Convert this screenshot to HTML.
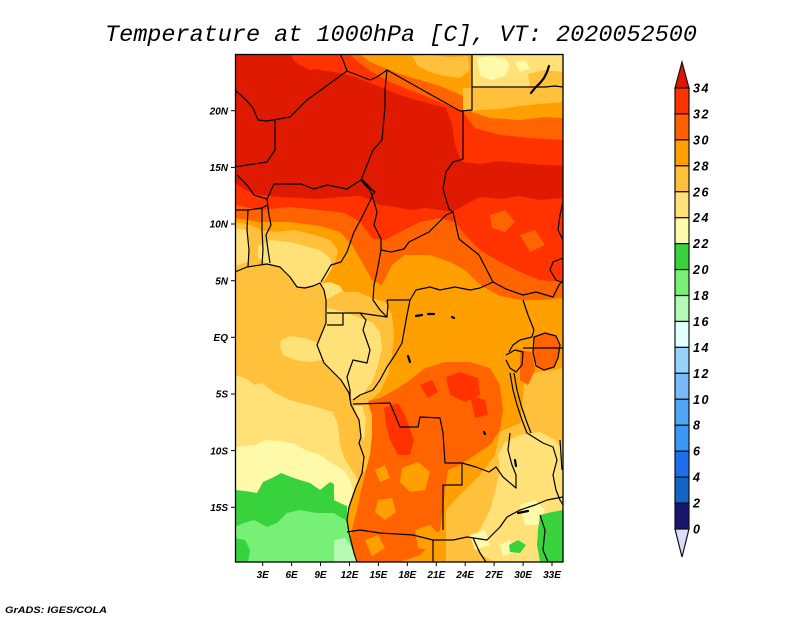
<!DOCTYPE html>
<html><head><meta charset="utf-8"><style>
html,body{margin:0;padding:0;background:#fff;}
svg{display:block;}
.t{font-family:"Liberation Mono",monospace;font-style:italic;}
.ax{font-family:"Liberation Sans",sans-serif;font-style:italic;font-weight:bold;font-size:10px;fill:#000;}
.cb{font-family:"Liberation Sans",sans-serif;font-style:italic;font-weight:bold;font-size:12.5px;fill:#000;letter-spacing:1.5px;}
</style></head><body>
<svg width="800" height="618" viewBox="0 0 800 618" xmlns="http://www.w3.org/2000/svg">
<rect width="800" height="618" fill="#fff"/>
<text class="t" x="105" y="41" font-size="23.5" textLength="592" lengthAdjust="spacingAndGlyphs">Temperature at 1000hPa [C], VT: 2020052500</text>
<defs><clipPath id="mc"><rect x="235" y="54" width="328" height="508"/></clipPath></defs>
<g clip-path="url(#mc)">
<rect x="235" y="54" width="328" height="508" fill="#ffa000"/>
<!-- north gradients -->
<polygon fill="#ff6400" points="235,54 360,54 370,62 385,68 400,74 420,80 440,86 463,96 472,112 490,118 520,120 545,117 563,118 563,298 540,300 520,300 500,296 480,285 465,270 450,262 430,255 405,255 392,265 382,285 372,280 362,262 352,245 340,232 320,226 290,222 260,222 235,218"/>
<polygon fill="#ff3200" points="235,54 350,54 358,62 372,72 390,82 410,90 435,100 463,112 475,128 500,135 530,138 563,140 563,282 540,280 520,272 500,262 480,250 465,235 455,222 440,218 420,222 400,232 385,240 372,238 360,222 345,213 320,210 290,207 260,210 235,205"/>
<polygon fill="#df1a00" points="235,54 290,54 295,62 320,70 340,73 355,77 370,83 385,89 400,95 420,101 446,108 452,125 455,145 460,158 463,162 480,164 500,161 530,164 563,166 563,198 540,200 520,196 500,199 480,197 465,205 452,212 440,210 425,208 410,210 395,207 380,205 370,200 360,196 340,197 320,199 300,198 280,197 260,195 245,190 235,183"/>
<polygon fill="#ff3200" points="290,54 350,54 352,60 340,65 325,68 310,70 298,64"/>
<polygon fill="#ff6400" points="490,215 505,210 515,222 505,232 492,228"/>
<polygon fill="#ff6400" points="520,235 535,230 545,245 530,252"/>
<!-- top middle / Egypt -->
<polygon fill="#ffc03c" points="412,56 430,55 450,57 468,56 470,70 460,78 445,76 430,72 418,66"/>
<polygon fill="#ffe178" points="472,54 563,54 563,88 472,88"/>
<polygon fill="#fffaaa" points="477,58 490,56 505,58 510,66 505,76 492,80 480,76"/>
<polygon fill="#fffaaa" points="515,62 525,60 530,68 520,72"/>
<polygon fill="#ffc03c" points="528,74 545,70 563,72 563,88 530,88"/>
<polygon fill="#ffc03c" points="463,88 563,88 563,102 540,104 520,106 500,109 480,110 472,111 463,111"/>
<!-- west africa cool -->
<polygon fill="#ffc03c" points="235,222 250,225 262,230 275,232 295,230 315,235 330,240 338,250 335,262 330,270 324,282 313,286 297,287 290,277 280,267 267,264 247,267 235,270"/>
<polygon fill="#ffe178" points="258,246 270,240 290,242 305,246 320,250 330,258 332,268 326,278 320,283 313,286 297,287 290,277 280,267 267,264 258,258"/>
<polygon fill="#ffe178" points="235,228 246,230 250,245 248,262 235,266"/>
<polygon fill="#ffe178" points="318,284 330,282 340,286 346,296 348,306 342,312 330,314 326,300 324,290"/>
<!-- south-central hot -->
<polygon fill="#ff6400" points="365,402 380,398 395,390 410,380 425,368 445,362 470,362 490,368 500,385 503,410 500,430 490,445 475,455 460,465 448,470 445,490 443,510 440,530 430,545 420,555 400,562 358,562 354,553 350,540 353,525 357,510 361,490 365,475 368,458 370,440 370,420"/>
<polygon fill="#ffa000" points="402,468 418,462 430,472 425,490 410,492 400,482"/>
<polygon fill="#ffa000" points="378,500 392,498 396,512 385,520 375,512"/>
<polygon fill="#ffa000" points="415,530 430,525 440,535 432,550 418,548"/>
<polygon fill="#ffa000" points="365,540 378,535 385,548 372,556"/>
<polygon fill="#ffa000" points="375,470 385,465 390,478 380,482"/>
<polygon fill="#ff3200" points="384,408 398,403 405,415 414,440 410,455 398,455 390,440 386,425"/>
<polygon fill="#ff3200" points="446,377 460,372 478,378 480,395 465,402 450,395"/>
<polygon fill="#ff3200" points="420,385 432,380 438,392 428,398"/>
<polygon fill="#ff3200" points="470,395 485,400 488,415 475,418"/>
<!-- southeast cool -->
<polygon fill="#ffc03c" points="525,375 540,372 555,370 563,368 563,420 545,420 530,423 520,428"/>
<polygon fill="#ffc03c" points="500,432 515,425 530,420 545,418 563,415 563,562 446,562 446,510 455,500 465,490 480,475 495,455"/>
<polygon fill="#ffe178" points="505,442 520,435 540,432 555,440 563,450 563,562 495,562 482,555 475,540 482,525 490,510 495,492 500,470 498,455"/>
<polygon fill="#fffaaa" points="520,505 535,500 545,510 540,525 525,525"/>
<polygon fill="#fffaaa" points="470,535 485,530 490,545 475,550"/>
<polygon fill="#fffaaa" points="500,545 510,540 515,552 503,556"/>
<polygon fill="#37d23c" points="540,515 552,512 563,510 563,562 540,562 537,545 538,530"/>
<polygon fill="#37d23c" points="509,545 518,540 526,545 520,553 510,552"/>
<polygon fill="#ff6400" points="534,337 545,333 556,336 560,345 558,358 554,367 544,370 536,366 533,352"/>
<polygon fill="#ff6400" points="520,350 532,352 535,370 528,385 520,380"/>
<!-- central coast cool -->
<polygon fill="#ffc03c" points="326,300 340,292 358,292 372,298 385,302 392,315 394,335 392,355 388,375 380,392 368,402 352,404 349,393 341,380 324,363 317,345 326,323"/>
<polygon fill="#ffe178" points="326,308 345,312 360,318 372,322 380,332 382,348 378,365 372,382 362,395 352,400 349,393 341,380 324,363 317,345 326,323"/>
<polygon fill="#ffc03c" points="352,404 368,402 372,415 372,435 370,455 366,470 362,473 364,457 359,443 361,437 359,420"/>
<polygon fill="#ffe178" points="354,406 362,406 366,420 364,440 361,437 359,420"/>
<!-- ocean -->
<polygon fill="#ffc03c" points="235,270 247,267 267,264 280,267 290,277 297,287 313,286 320,283 324,290 326,300 326,323 317,345 324,363 341,380 349,393 351,405 359,420 361,437 359,443 364,457 362,473 356,487 349,507 347,520 349,533 354,553 357,562 235,562"/>
<polygon fill="#ffe178" points="281,340 290,336 305,338 318,343 320,352 322,360 310,362 295,360 283,355 280,347"/>
<polygon fill="#ffe178" points="235,375 245,378 255,385 262,383 275,393 290,400 305,404 320,408 333,412 338,425 340,445 345,460 352,470 358,480 356,487 349,507 347,520 349,533 354,553 357,562 235,562"/>
<polygon fill="#fffaaa" points="235,447 255,445 265,440 280,441 295,444 305,450 320,455 330,462 340,468 345,472 350,480 353,490 349,507 347,520 349,533 354,553 357,562 235,562"/>
<polygon fill="#37d23c" points="235,490 245,491 257,493 263,482 274,477 281,473 291,477 300,480 310,483 320,490 330,482 334,484 334,500 340,503 347,506 347,520 349,533 354,553 357,562 235,562"/>
<polygon fill="#78f078" points="235,527 244,523 254,520 267,527 277,523 287,513 300,510 317,513 334,513 340,517 346,520 349,533 354,553 357,562 235,562"/>
<polygon fill="#37d23c" points="235,538 245,540 250,550 248,562 235,562"/>
<polygon fill="#b4fab4" points="334,540 345,538 350,545 354,553 357,562 334,562"/>
<!-- borders -->
<g fill="none" stroke="#000" stroke-width="1.2" stroke-linejoin="round">
<polyline points="235,272 247,267 267,264 280,267 290,277 297,287 305,288 313,286 320,283 324,290 326,300 326,323 317,345 324,363 341,380 349,393 351,405 359,420 361,437 359,443 364,457 362,473 356,487 349,507 347,520 349,533 354,553 357,562"/>
<polyline points="235,90 246,100 253,108 258,120 267,121 290,117 307,100 347,71 343,60 340,54"/>
<polyline points="347,71 370,80 377,77 387,70 460,111 472,110 472,54"/>
<polyline points="472,87 545,87 555,86 563,87"/>
<polyline points="387,70 385,90 385,107 382,140 373,150 365,170 361,180"/>
<polyline points="275,119 275,150 267,162 247,165 235,167"/>
<polyline points="237,175 247,185 254,195 267,199 274,184 287,184 301,184 314,189 327,185 347,189 361,180"/>
<polyline points="361,180 365,185 370,190 372,195 375,192 367,186"/>
<polyline points="372,195 371,199 361,219 354,232 347,252 341,262 331,265 321,282"/>
<polyline points="372,195 377,212 374,225 381,239 381,250 391,252 404,249 409,242 429,232 446,215 453,212"/>
<polyline points="463,111 463,159 453,162 446,172 443,189 449,209 453,212 459,239 479,255 493,282 506,289 523,295 536,292 553,297 559,285 563,280"/>
<polyline points="381,250 377,272 374,285 373,300 380,310 387,317"/>
<polyline points="327,313 343,313 360,313 373,315 387,317 388,305 387,300"/>
<polyline points="327,325 343,325 343,313"/>
<polyline points="360,313 366,320 363,330 370,350 367,363 353,360 347,377 350,390 350,400"/>
<polyline points="410,300 407,315 402,343 395,355 387,367 380,380 373,390 360,395 353,400"/>
<polyline points="387,300 396,300 410,300 416,290 430,287 440,290 455,287 470,290 480,288 493,282"/>
<polyline points="248,210 247,230 249,250 248,267"/>
<polyline points="262,208 262,230 263,250 262,265"/>
<polyline points="267,199 269,215 271,225 266,235 268,250 270,263"/>
<polyline points="235,210 248,210 262,208 267,205"/>
<polyline points="353,404 390,403 400,427 418,427 420,417 440,418 443,433 445,463 462,463 462,485 443,485 443,530"/>
<polyline points="347,532 360,530 380,533 413,535 433,540 453,540 467,537 487,540 500,527 507,517 520,510 535,505 547,500 563,497"/>
<polyline points="433,540 433,562"/>
<polyline points="473,538 480,553 486,562"/>
<polyline points="462,463 476,467 489,472 496,467 503,477 516,488 516,475 512,465 508,450 510,433"/>
<polyline points="527,433 535,438 543,443 553,447 557,460 553,475 556,490 560,500 563,505"/>
<polyline points="510,373 513,390 517,405 522,420 527,433"/>
<polyline points="514,373 517,390 521,405 526,420 531,433"/>
<polyline points="506,355 515,350 523,352 522,365 516,372 510,368 506,360"/>
<polyline points="523,300 528,315 534,330 532,337 520,340 513,345 509,352"/>
<polyline points="523,348 563,348"/>
<polyline points="534,337 545,333 556,336 560,345 558,358 554,367 544,370 536,366 533,352 534,337"/>
<polyline points="563,202 560,215 558,230 563,240"/>
<polyline points="563,258 553,262 550,270 556,280 563,283"/>
<polyline points="560,440 562,470"/>
<polyline points="540,515 545,530 543,550 548,562"/>
</g>
<g stroke="#000" stroke-width="2.2" fill="none" stroke-linecap="round">
<polyline points="549,66 547,72 544,78 540,83 535,88 531,93"/>
<line x1="416" y1="316" x2="422" y2="315"/>
<line x1="428" y1="314" x2="434" y2="314"/>
<line x1="452" y1="317" x2="454" y2="318"/>
<line x1="408" y1="356" x2="410" y2="362"/>
<line x1="484" y1="432" x2="485" y2="434"/>
<line x1="515" y1="460" x2="516" y2="466"/>
<line x1="518" y1="513" x2="528" y2="511"/>
<line x1="362" y1="180" x2="370" y2="188"/>
</g>
</g>
<rect x="235.5" y="54.5" width="327.5" height="507.5" fill="none" stroke="#000" stroke-width="1.3"/>
<!-- ticks -->
<g stroke="#000" stroke-width="1">
<line x1="231" y1="110.7" x2="235" y2="110.7"/><line x1="231" y1="167.4" x2="235" y2="167.4"/>
<line x1="231" y1="224" x2="235" y2="224"/><line x1="231" y1="280.7" x2="235" y2="280.7"/>
<line x1="231" y1="337.3" x2="235" y2="337.3"/><line x1="231" y1="394" x2="235" y2="394"/>
<line x1="231" y1="450.6" x2="235" y2="450.6"/><line x1="231" y1="507.3" x2="235" y2="507.3"/>
<line x1="262.7" y1="562" x2="262.7" y2="566"/><line x1="291.6" y1="562" x2="291.6" y2="566"/>
<line x1="320.5" y1="562" x2="320.5" y2="566"/><line x1="349.5" y1="562" x2="349.5" y2="566"/>
<line x1="378.4" y1="562" x2="378.4" y2="566"/><line x1="407.3" y1="562" x2="407.3" y2="566"/>
<line x1="436.3" y1="562" x2="436.3" y2="566"/><line x1="465.2" y1="562" x2="465.2" y2="566"/>
<line x1="494.1" y1="562" x2="494.1" y2="566"/><line x1="523.1" y1="562" x2="523.1" y2="566"/>
<line x1="552" y1="562" x2="552" y2="566"/>
</g>
<g class="ax" text-anchor="end">
<text x="228" y="114.5">20N</text><text x="228" y="171">15N</text><text x="228" y="227.7">10N</text>
<text x="228" y="284.4">5N</text><text x="228" y="341">EQ</text><text x="228" y="397.7">5S</text>
<text x="228" y="454.3">10S</text><text x="228" y="511">15S</text>
</g>
<g class="ax" text-anchor="middle">
<text x="262.7" y="578">3E</text><text x="291.6" y="578">6E</text><text x="320.5" y="578">9E</text>
<text x="349.5" y="578">12E</text><text x="378.4" y="578">15E</text><text x="407.3" y="578">18E</text>
<text x="436.3" y="578">21E</text><text x="465.2" y="578">24E</text><text x="494.1" y="578">27E</text>
<text x="523.1" y="578">30E</text><text x="552" y="578">33E</text>
</g>
<!-- colorbar -->
<g stroke="#111" stroke-width="1.2">
<polygon points="682,62 675,88 689,88" fill="#e11400"/>
<rect x="675" y="88" width="14" height="25.94" fill="#ff3200"/>
<rect x="675" y="113.94" width="14" height="25.94" fill="#ff6000"/>
<rect x="675" y="139.88" width="14" height="25.94" fill="#ffa000"/>
<rect x="675" y="165.82" width="14" height="25.94" fill="#ffc03c"/>
<rect x="675" y="191.76" width="14" height="25.94" fill="#ffe178"/>
<rect x="675" y="217.7" width="14" height="25.94" fill="#fffaaa"/>
<rect x="675" y="243.64" width="14" height="25.94" fill="#37d23c"/>
<rect x="675" y="269.58" width="14" height="25.94" fill="#78f078"/>
<rect x="675" y="295.52" width="14" height="25.94" fill="#b4fab4"/>
<rect x="675" y="321.46" width="14" height="25.94" fill="#e1ffff"/>
<rect x="675" y="347.4" width="14" height="25.94" fill="#96d2fa"/>
<rect x="675" y="373.34" width="14" height="25.94" fill="#78b9fa"/>
<rect x="675" y="399.28" width="14" height="25.94" fill="#50a5f5"/>
<rect x="675" y="425.22" width="14" height="25.94" fill="#3c96f5"/>
<rect x="675" y="451.16" width="14" height="25.94" fill="#1e6eeb"/>
<rect x="675" y="477.1" width="14" height="25.94" fill="#1464c8"/>
<rect x="675" y="503.04" width="14" height="25.96" fill="#16166e"/>
<polygon points="675,529 689,529 682,557" fill="#dcdcff"/>
</g>
<g class="cb">
<text x="693" y="92.5">34</text><text x="693" y="118.4">32</text><text x="693" y="144.4">30</text>
<text x="693" y="170.3">28</text><text x="693" y="196.3">26</text><text x="693" y="222.2">24</text>
<text x="693" y="248.1">22</text><text x="693" y="274.1">20</text><text x="693" y="300">18</text>
<text x="693" y="326">16</text><text x="693" y="351.9">14</text><text x="693" y="377.8">12</text>
<text x="693" y="403.8">10</text><text x="693" y="429.7">8</text><text x="693" y="455.7">6</text>
<text x="693" y="481.6">4</text><text x="693" y="507.5">2</text><text x="693" y="533.5">0</text>
</g>
<text x="5" y="613" font-family="Liberation Sans, sans-serif" font-style="italic" font-weight="bold" font-size="9" textLength="102" lengthAdjust="spacingAndGlyphs">GrADS: IGES/COLA</text>
</svg>
</body></html>
